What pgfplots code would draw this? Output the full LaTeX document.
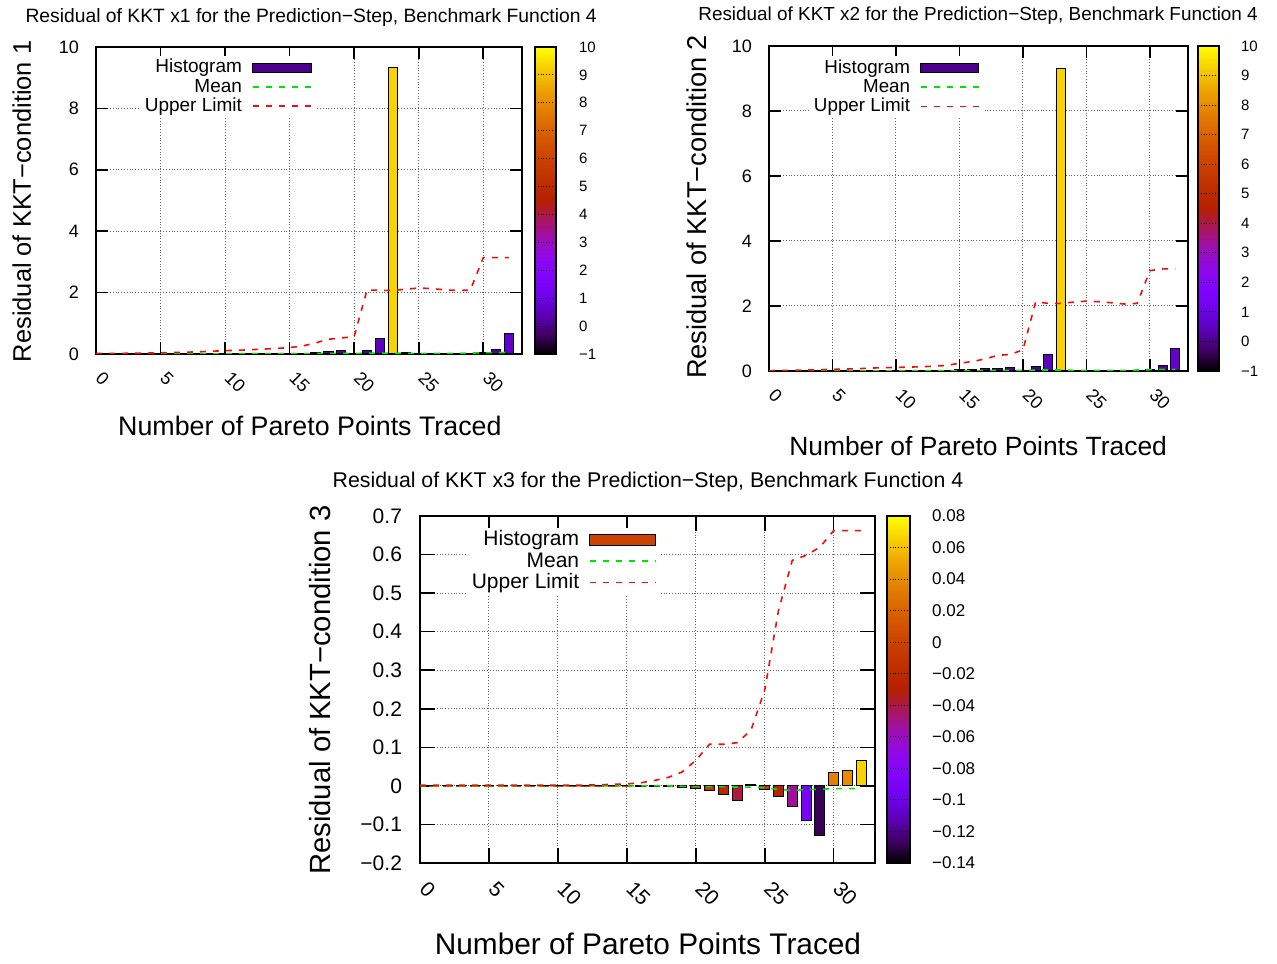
\documentclass[border=0pt]{standalone}
\usepackage{pgfplots}
\usepackage{pgfplotstable}
\pgfplotsset{compat=1.18}
\usepackage{fontspec}
\setmainfont{Liberation Sans}

\definecolor{gpgreen}{rgb}{0,0.9,0}
\definecolor{gpred}{rgb}{0.95,0.05,0.05}
\definecolor{histA}{rgb}{0.30,0.0,0.54}
\definecolor{histC}{rgb}{0.80,0.26,0.0}

% bars: x, value
\pgfplotstableread{
x y
1 0.005
2 0.005
3 0.005
4 0.008
5 0.008
6 0.01
7 0.01
8 0.012
9 0.012
10 0.015
11 0.015
12 0.02
13 0.02
14 0.025
15 0.03
16 0.03
17 0.05
18 0.065
19 0.10
20 0.03
21 0.12
22 0.50
23 9.32
24 0.04
25 0.01
26 0.01
27 0.01
28 0.01
29 0.02
30 0.04
31 0.16
32 0.67
}\barsA
\pgfplotstableread{
x mean upper
0 0.005 0.02
1 0.005 0.02
2 0.005 0.02
3 0.005 0.03
4 0.005 0.03
5 0.005 0.04
6 0.005 0.05
7 0.005 0.06
8 0.005 0.07
9 0.005 0.09
10 0.005 0.11
11 0.01 0.12
12 0.01 0.14
13 0.01 0.16
14 0.01 0.18
15 0.01 0.21
16 0.01 0.26
17 0.015 0.36
18 0.015 0.48
19 0.015 0.52
20 0.015 0.57
21 0.03 2.09
22 0.03 2.07
23 0.03 2.07
24 0.02 2.11
25 0.02 2.15
26 0.02 2.13
27 0.02 2.09
28 0.02 2.07
29 0.03 2.08
30 0.04 3.14
31 0.05 3.14
32 0.05 3.14
}\linesA

\pgfplotstableread{
x y
1 0.005
2 0.005
3 0.005
4 0.008
5 0.008
6 0.01
7 0.01
8 0.012
9 0.012
10 0.015
11 0.015
12 0.02
13 0.02
14 0.025
15 0.04
16 0.06
17 0.07
18 0.09
19 0.12
20 0.03
21 0.13
22 0.51
23 9.32
24 0.03
25 0.01
26 0.01
27 0.01
28 0.01
29 0.02
30 0.04
31 0.17
32 0.70
}\barsB
\pgfplotstableread{
x mean upper
0 0.005 0.01
1 0.005 0.02
2 0.005 0.02
3 0.005 0.03
4 0.005 0.04
5 0.005 0.05
6 0.005 0.06
7 0.005 0.07
8 0.005 0.09
9 0.005 0.10
10 0.005 0.11
11 0.01 0.12
12 0.01 0.13
13 0.01 0.15
14 0.01 0.17
15 0.01 0.24
16 0.01 0.29
17 0.015 0.37
18 0.015 0.48
19 0.015 0.51
20 0.015 0.65
21 0.03 2.13
22 0.03 2.08
23 0.03 2.08
24 0.02 2.12
25 0.02 2.15
26 0.02 2.13
27 0.02 2.10
28 0.02 2.06
29 0.03 2.08
30 0.04 3.09
31 0.05 3.14
32 0.05 3.14
}\linesB

\pgfplotstableread{
x y
1 0.0005
2 0.0005
3 0.0005
4 0.0005
5 0.0005
6 0.0005
7 0.0005
8 0.0005
9 0.0005
10 0.0005
11 0.0005
12 0.0005
13 0.0005
14 0.0005
15 0.0005
16 -0.0005
17 -0.001
18 -0.001
19 -0.004
20 -0.007
21 -0.012
22 -0.0225
23 -0.039
24 0.004
25 -0.0095
26 -0.0276
27 -0.0535
28 -0.0907
29 -0.128
30 0.0345
31 0.0397
32 0.0665
}\barsC
\pgfplotstableread{
x mean upper
0 0 0.002
1 0 0.002
2 0 0.002
3 0 0.002
4 0 0.002
5 0 0.002
6 0 0.002
7 0 0.002
8 0 0.002
9 0 0.002
10 0 0.002
11 0 0.002
12 0 0.002
13 0 0.003
14 0 0.004
15 0 0.005
16 0 0.008
17 0 0.014
18 0 0.022
19 -0.001 0.036
20 -0.002 0.066
21 -0.002 0.108
22 -0.002 0.108
23 -0.003 0.112
24 -0.003 0.144
25 -0.005 0.248
26 -0.009 0.455
27 -0.012 0.585
28 -0.0095 0.598
29 -0.009 0.619
30 -0.007 0.662
31 -0.007 0.662
32 -0.007 0.662
}\linesC

\pgfplotsset{
  colormap={gp}{rgb=(0,0,0) rgb=(0.25,0,0.383) rgb=(0.354,0.002,0.707) rgb=(0.433,0.007,0.924) rgb=(0.5,0.016,1) rgb=(0.559,0.031,0.924) rgb=(0.612,0.053,0.707) rgb=(0.661,0.084,0.383) rgb=(0.707,0.125,0) rgb=(0.75,0.178,0) rgb=(0.791,0.244,0) rgb=(0.829,0.325,0) rgb=(0.866,0.422,0) rgb=(0.901,0.536,0) rgb=(0.935,0.67,0) rgb=(0.968,0.824,0) rgb=(1,1,0)},
  gp/.style={
    scale only axis,
    colormap name=gp,
    xmin=0, xmax=33,
    xtick={0,5,10,15,20,25,30},
    xticklabels={0,5,10,15,20,25,30},
    grid=major,
    grid style={densely dotted, black!60, line width=0.5pt},
    axis line style={line width=0.8pt},
    tick style={black, line width=0.8pt},
    major tick length=6pt,
    tick align=inside,
    legend plot pos=right,
    legend cell align=right,
    legend image code/.code={\draw[##1] (0pt,0pt) -- (29.5pt,0pt);},
    legend style={draw=none, fill=white, inner sep=1pt, row sep=0pt, column sep=4pt,
      nodes={inner xsep=1pt, inner ysep=0.3pt, text height=7pt, text depth=2pt}},
    colorbar,
  },
  histlegA/.style={legend image code/.code={\draw[##1] (0pt,-2.3pt) rectangle (29.5pt,2.3pt);}},
  histlegB/.style={legend image code/.code={\draw[##1] (0pt,-2.4pt) rectangle (29pt,2.4pt);}},
  histlegC/.style={legend image code/.code={\draw[##1] (0pt,-2.8pt) rectangle (33pt,2.8pt);}},
  linelegC/.style={legend image code/.code={\draw[##1] (0pt,0.3pt) -- (33pt,0.3pt);}},
  barfill/.style={quiver={u=0, v=\thisrow{y}, colored=mapped color,
      every arrow/.append style={-, line width=#1, line cap=butt}},
    point meta=\thisrow{y}, forget plot},
  barline/.style={ybar, bar width=0.72, bar shift=0pt, draw=black, fill=none, line width=0.5pt, forget plot},
  meanline/.style={color=gpgreen, line width=0.8pt, dash pattern=on 3pt off 3.5pt},
  upperline/.style={color=gpred, line width=0.8pt, dash pattern=on 3pt off 3.5pt},
}

\begin{document}
\begin{tikzpicture}
\path[use as bounding box] (0,0) rectangle (638.5pt,481.5pt);

% ---------------- plot 1 ----------------
\begin{axis}[gp,
  at={(48pt,304.5pt)}, anchor=south west,
  width=213pt, height=153.5pt,
  ymin=0, ymax=10,
  ytick={0,2,4,6,8,10}, yticklabels={0,2,4,6,8,10},
  point meta min=-1, point meta max=10,
  tick label style={font=\fontsize{9}{9}\selectfont},
  xticklabel style={xshift=-1pt, yshift=-8pt, rotate=-45, anchor=west},
  yticklabel style={xshift=-5pt},
  title={Residual of KKT x1 for the Prediction−Step, Benchmark Function 4},
  title style={at={(axis description cs:0.505,1.104)}, anchor=center, yshift=-7pt, font=\fontsize{9.65}{10}\selectfont},
  xlabel={Number of Pareto Points Traced},
  xlabel style={at={(axis description cs:0.502,-0.235)}, anchor=center, font=\fontsize{13.4}{14}\selectfont},
  ylabel={Residual of KKT−condition 1},
  ylabel style={at={(axis description cs:-0.174,0.497)}, anchor=center, font=\fontsize{12.7}{13}\selectfont},
  legend style={at={(axis description cs:0.514,0.971)}, anchor=north east, font=\fontsize{9.5}{9.5}\selectfont},
  colorbar style={scale only axis, width=10.5pt, height=153.5pt,
    at={(parent axis.north east)}, anchor=north west, xshift=-2pt,
    ytick={-1,0,1,2,3,4,5,6,7,8,9,10}, yticklabels={−1,0,1,2,3,4,5,6,7,8,9,10},
    yticklabel style={font=\fontsize{7.5}{7.5}\selectfont, anchor=west, xshift=8pt},
    major tick length=0pt, ymajorgrids, major grid style={black, line width=0.5pt},
    axis line style={line width=0.6pt}},
]
\addplot[barfill=4.68pt] table[x=x, y expr=0] {\barsA};
\addplot[barline] table[x=x, y=y] {\barsA};
\addlegendimage{histlegA, fill=histA, draw=black, line width=0.5pt}
\addlegendentry{Histogram}
\addplot[meanline] table[x=x, y=mean] {\linesA};
\addlegendentry{Mean}
\addplot[upperline] table[x=x, y=upper] {\linesA};
\addlegendentry{Upper Limit}
\end{axis}

% ---------------- plot 2 ----------------
\begin{axis}[gp,
  at={(384.5pt,296pt)}, anchor=south west,
  width=209.5pt, height=162.5pt,
  ymin=0, ymax=10,
  ytick={0,2,4,6,8,10}, yticklabels={0,2,4,6,8,10},
  point meta min=-1, point meta max=10,
  tick label style={font=\fontsize{9}{9}\selectfont},
  xticklabel style={xshift=-1pt, yshift=-8pt, rotate=-45, anchor=west},
  yticklabel style={xshift=-5pt},
  title={Residual of KKT x2 for the Prediction−Step, Benchmark Function 4},
  title style={at={(axis description cs:0.499,1.1015)}, anchor=center, yshift=-7.5pt, font=\fontsize{9.45}{10}\selectfont},
  xlabel={Number of Pareto Points Traced},
  xlabel style={at={(axis description cs:0.499,-0.231)}, anchor=center, font=\fontsize{13.2}{14}\selectfont},
  ylabel={Residual of KKT−condition 2},
  ylabel style={at={(axis description cs:-0.172,0.505)}, anchor=center, font=\fontsize{13.6}{14}\selectfont},
  legend style={at={(axis description cs:0.511,0.969)}, anchor=north east, font=\fontsize{9.4}{9.4}\selectfont},
  colorbar style={scale only axis, width=10.5pt, height=162.5pt,
    at={(parent axis.north east)}, anchor=north west, xshift=-3.5pt,
    ytick={-1,0,1,2,3,4,5,6,7,8,9,10}, yticklabels={−1,0,1,2,3,4,5,6,7,8,9,10},
    yticklabel style={font=\fontsize{7.5}{7.5}\selectfont, anchor=west, xshift=7.5pt},
    major tick length=0pt, ymajorgrids, major grid style={black, line width=0.5pt},
    axis line style={line width=0.6pt}},
]
\addplot[barfill=4.56pt] table[x=x, y expr=0] {\barsB};
\addplot[barline] table[x=x, y=y] {\barsB};
\addlegendimage{histlegB, fill=histA, draw=black, line width=0.5pt}
\addlegendentry{Histogram}
\addplot[meanline] table[x=x, y=mean] {\linesB};
\addlegendentry{Mean}
\addplot[upperline] table[x=x, y=upper] {\linesB};
\addlegendentry{Upper Limit}
\end{axis}

% ---------------- plot 3 ----------------
\begin{axis}[gp,
  at={(210pt,50pt)}, anchor=south west,
  width=227.5pt, height=173.5pt,
  ymin=-0.2, ymax=0.7,
  ytick={-0.2,-0.1,0,0.1,0.2,0.3,0.4,0.5,0.6,0.7},
  yticklabels={−0.2,−0.1,0,0.1,0.2,0.3,0.4,0.5,0.6,0.7},
  major tick length=7.5pt,
  point meta min=-0.14, point meta max=0.08,
  tick label style={font=\fontsize{10.5}{10.5}\selectfont},
  xticklabel style={xshift=-0.8pt, yshift=-8.7pt, rotate=-45, anchor=west},
  yticklabel style={xshift=-5.5pt},
  title={Residual of KKT x3 for the Prediction−Step, Benchmark Function 4},
  title style={at={(axis description cs:0.501,1.104)}, anchor=center, yshift=-7pt, font=\fontsize{10.65}{11}\selectfont},
  xlabel={Number of Pareto Points Traced},
  xlabel style={at={(axis description cs:0.501,-0.233)}, anchor=center, font=\fontsize{14.9}{15}\selectfont},
  ylabel={Residual of KKT−condition 3},
  ylabel style={at={(axis description cs:-0.22,0.4986)}, anchor=center, font=\fontsize{14.6}{15}\selectfont},
  legend style={at={(axis description cs:0.5256,0.968)}, anchor=north east, font=\fontsize{10.5}{10.5}\selectfont,
    nodes={inner xsep=1pt, inner ysep=0.3pt, text height=7.8pt, text depth=2.3pt}},
  colorbar style={scale only axis, width=11.5pt, height=173.5pt,
    at={(parent axis.north east)}, anchor=north west, xshift=-2.5pt,
    ytick={-0.14,-0.12,-0.1,-0.08,-0.06,-0.04,-0.02,0,0.02,0.04,0.06,0.08},
    yticklabels={−0.14,−0.12,−0.1,−0.08,−0.06,−0.04,−0.02,0,0.02,0.04,0.06,0.08},
    yticklabel style={font=\fontsize{8.5}{8.5}\selectfont, anchor=west, xshift=7.5pt},
    major tick length=0pt, ymajorgrids, major grid style={black, line width=0.5pt},
    axis line style={line width=0.6pt}},
]
\addplot[barfill=4.97pt] table[x=x, y expr=0] {\barsC};
\addplot[barline] table[x=x, y=y] {\barsC};
\addlegendimage{histlegC, fill=histC, draw=black, line width=0.5pt}
\addlegendentry{Histogram}
\addplot[meanline, linelegC] table[x=x, y=mean] {\linesC};
\addlegendentry{Mean}
\addplot[upperline, linelegC] table[x=x, y=upper] {\linesC};
\addlegendentry{Upper Limit}
\end{axis}
\end{tikzpicture}
\end{document}
